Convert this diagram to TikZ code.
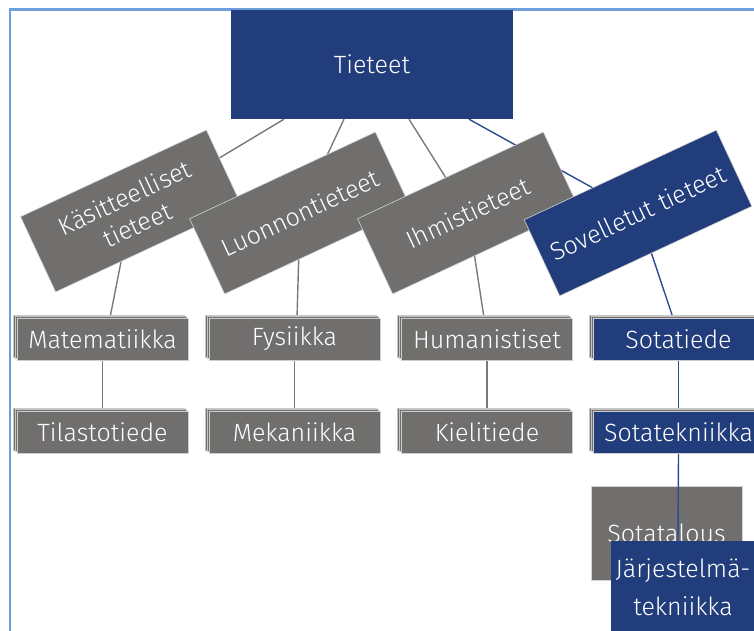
\documentclass[tikz,border=0pt]{standalone}
\usepackage{fontspec}
\setmainfont{Fira Sans Light}
\usetikzlibrary{shadows,calc}
\definecolor{tblue}{HTML}{223D7B}
\definecolor{tgray}{HTML}{706F6D}
\definecolor{frameblue}{HTML}{6E9FDC}
\definecolor{lgray}{HTML}{7A7A7A}
\definecolor{lblue}{HTML}{2E4A8E}
\pgfdeclarelayer{bg}
\pgfdeclarelayer{mid}
\pgfsetlayers{bg,mid,main}
\begin{document}
\begin{tikzpicture}[x=1pt,y=-1pt,
  txt/.style={text=white, font=\fontsize{25}{30}\selectfont, align=center, inner sep=0pt},
  topbox/.style={txt, fill=tblue, minimum width=282pt, minimum height=109pt},
  rotbox/.style={txt, fill=tgray, draw=white!70!tgray, line width=0.6pt, minimum width=205pt, minimum height=83pt, rotate=25},
  stackbox/.style={txt, fill=#1, draw=white!65!tgray, line width=0.5pt, minimum width=171pt, minimum height=42pt,
    double copy shadow={shadow xshift=-2pt, shadow yshift=1.5pt, fill=tgray, draw=white!60!tgray, line width=0.5pt}},
  stackbox/.default=tgray,
  gline/.style={draw=lgray, line width=1.4pt},
  bline/.style={draw=lblue, line width=1.4pt}]
\useasboundingbox (0,0) rectangle (754,630);
\clip (0,0) rectangle (754,630);

% top
\node[topbox] (T) at (372,64.5) {Tieteet};
% level 1
\node[rotbox] (K) at (131,211) {Käsitteelliset\\tieteet};
\node[rotbox] (L) at (300,213) {Luonnontieteet};
\node[rotbox] (I) at (468,213) {Ihmistieteet};
\node[rotbox, fill=tblue, minimum width=212pt, minimum height=84pt] (S) at (638,213) {Sovelletut tieteet};
% level 2
\node[stackbox] (M) at (102.5,339) {Matematiikka};
\node[stackbox] (F) at (294.5,339) {Fysiikka};
\node[stackbox] (H) at (487,339) {Humanistiset};
\node[stackbox=tblue] (St) at (678.5,339) {Sotatiede};
% level 3
\node[stackbox] (Ti) at (102.5,432) {Tilastotiede};
\node[stackbox] (Me) at (294.5,432) {Mekaniikka};
\node[stackbox] (Ki) at (487,432) {Kielitiede};
\node[stackbox=tblue] (Stk) at (678.5,432) {Sotatekniikka};
% level 4
\node[txt, fill=tblue, minimum width=144pt, minimum height=92pt, font=\fontsize{25}{38}\selectfont] (J) at (683,587) {Järjestelmä-\\tekniikka};
\begin{pgfonlayer}{mid}
\node[txt, fill=tgray, draw=white!70!tgray, line width=0.6pt, minimum width=151pt, minimum height=94pt] (Sa) at (666.5,533) {Sotatalous};
\draw[bline] (Stk.south) -- ([xshift=-5pt]J.north);
\end{pgfonlayer}

\begin{pgfonlayer}{bg}
\draw[frameblue, line width=2.4pt] (770,9.5) -- (9.8,9.5) -- (9.8,640);
\draw[gline] ([xshift=-88pt]T.south) -- (K.center);
\draw[gline] ([xshift=-28pt]T.south) -- (L.center);
\draw[gline] ([xshift=37pt]T.south) -- (I.center);
\draw[bline] ([xshift=97pt]T.south) -- (S.center);
\draw[gline] (K.center) -- ([xshift=7.5pt]M.north);
\draw[gline] (L.center) -- ([xshift=2.5pt]F.north);
\draw[gline] (I.center) -- ([xshift=-3pt]H.north);
\draw[bline] (S.center) -- ([xshift=-5.5pt]St.north);
\draw[gline] (M.south) -- (Ti.north);
\draw[gline] (F.south) -- (Me.north);
\draw[gline] (H.south) -- (Ki.north);
\draw[bline] (St.south) -- (Stk.north);
\end{pgfonlayer}
\end{tikzpicture}
\end{document}
